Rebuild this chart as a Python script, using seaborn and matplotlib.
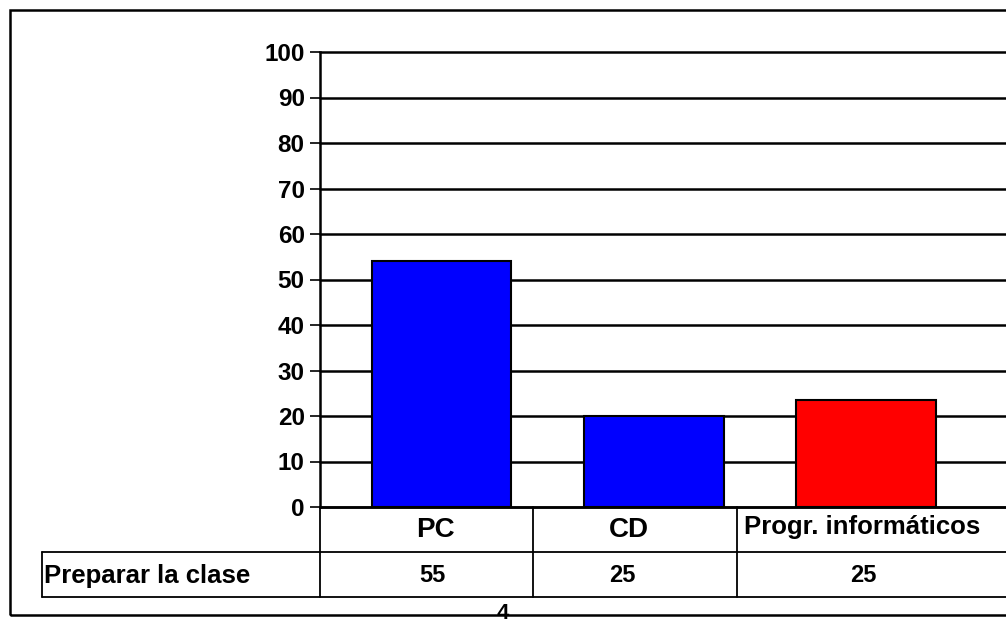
import numpy as np
import pandas as pd
import seaborn as sns
import matplotlib.pyplot as plt
from matplotlib.lines import Line2D
from matplotlib.patches import Rectangle

# Datos del gráfico
categorias = ['PC', 'CD', 'Progr. informáticos']
valores_barras = [54, 20, 23.5]
valores_tabla = ['55', '25', '25']
etiqueta_serie = 'Preparar la clase'
colores = ['#0000FF', '#0000FF', '#FF0000']
ticks_y = list(range(0, 101, 10))

sns.set_theme(style='white')
plt.rcParams['font.family'] = ['Liberation Sans', 'DejaVu Sans']
plt.rcParams['font.weight'] = 'bold'
plt.rcParams['text.color'] = 'black'
plt.rcParams['ytick.labelcolor'] = 'black'

W, H = 1006, 622
fig = plt.figure(figsize=(W / 100, H / 100), dpi=100)
ax = fig.add_axes([320 / W, 1 - 507 / H, 1 - 320 / W, (507 - 52) / H])

df = pd.DataFrame({'cat': categorias, 'valor': valores_barras})
sns.barplot(data=df, x='cat', y='valor', hue='cat', palette=colores,
            saturation=1, edgecolor='black', linewidth=1.5, width=0.656,
            legend=False, ax=ax, zorder=3)

ax.set_ylim(0, 100)
ax.set_xlim(-0.575, 2.66)
ax.set_yticks(ticks_y)
ax.set_yticklabels([str(t) for t in ticks_y], fontsize=17.5, fontweight='bold')
ax.tick_params(axis='y', length=7, width=1.2, color='black', pad=4, left=True)
ax.yaxis.grid(True, color='black', linewidth=1.8, zorder=0)
for gl in ax.get_ygridlines():
    gl.set_clip_on(False)
ax.set_axisbelow(True)
ax.set_xticks([])
ax.set_xlabel('')
ax.set_ylabel('')
for s in ['top', 'right']:
    ax.spines[s].set_visible(False)
ax.spines['left'].set_color('black')
ax.spines['left'].set_linewidth(1.8)
ax.spines['bottom'].set_color('black')
ax.spines['bottom'].set_linewidth(1.8)


def fx(px):
    return px / W


def fy(py):
    return 1 - py / H


def linea(x0, y0, x1, y1, lw=1.3):
    fig.add_artist(Line2D([fx(x0), fx(x1)], [fy(y0), fy(y1)],
                          transform=fig.transFigure, color='black', lw=lw))


# Tabla de datos bajo el eje
linea(42, 552, W, 552)
linea(42, 597, W, 597)
linea(42, 552, 42, 597)
linea(320, 507, 320, 597)
linea(533, 507, 533, 597)
linea(737, 507, 737, 597)

# fila de categorías
fig.text(fx(435), fy(530), categorias[0], ha='center', va='center',
         fontsize=20, fontweight='bold')
fig.text(fx(629), fy(530), categorias[1], ha='center', va='center',
         fontsize=20, fontweight='bold')
fig.text(fx(744), fy(527), categorias[2], ha='left', va='center',
         fontsize=18.5, fontweight='bold')

# fila de valores
for xc, v in zip([432, 622, 863], valores_tabla):
    fig.text(fx(xc), fy(575), v, ha='center', va='center',
             fontsize=17, fontweight='bold')

fig.text(fx(44), fy(576), etiqueta_serie, ha='left', va='center',
         fontsize=18.5, fontweight='bold')

# Marco exterior
fig.add_artist(Rectangle((fx(10), fy(615)), fx(1010) - fx(10), fy(10) - fy(615),
                         transform=fig.transFigure, fill=False,
                         edgecolor='black', lw=1.8))
fig.text(fx(503), fy(603), '4', ha='center', va='top', fontsize=16,
         fontweight='bold')

fig.savefig('out.png', dpi=100)
